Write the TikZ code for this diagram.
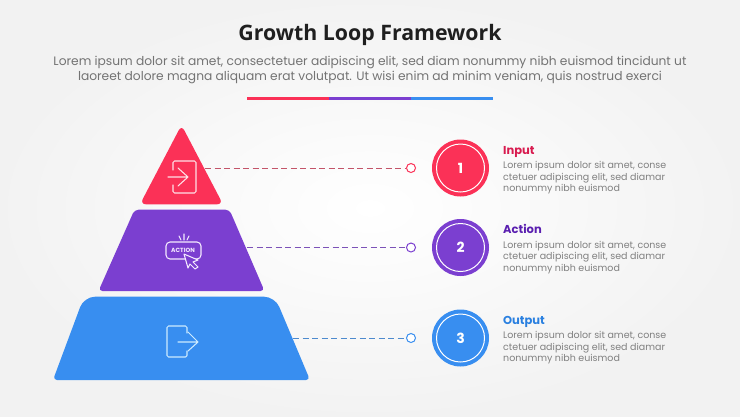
\documentclass[tikz,border=0pt]{standalone}
\usepackage{fontspec}
\setmainfont{Poppins}
\newfontfamily\titlefont{Open Sans}
\definecolor{cred}{HTML}{FB3157}
\definecolor{cpur}{HTML}{7B3FD0}
\definecolor{cblu}{HTML}{388EF0}
\definecolor{tred}{HTML}{D81B4F}
\definecolor{tpur}{HTML}{5A1FB0}
\definecolor{tblu}{HTML}{2A80E0}
\definecolor{icred}{HTML}{FFE0E6}
\definecolor{icpur}{HTML}{F4EAFF}
\definecolor{icblu}{HTML}{CDEBFF}
\tikzset{
  x=1pt,y=-1pt,
  icon/.style={line width=1.05pt,line join=round,line cap=round},
  conn/.style={line width=1pt,dash pattern=on 6pt off 3.5pt},
  dot/.style={circle,draw,fill=white,line width=1pt,minimum size=9pt,inner sep=0pt},
  badge/.style={circle,minimum size=57pt,inner sep=0pt,text=white,font=\fontsize{14}{14}\selectfont\bfseries},
  ring/.style={circle,draw=white,line width=1pt,minimum size=48pt,inner sep=0pt},
  head/.style={anchor=base west,inner sep=0pt,font=\fontsize{11.5}{12}\selectfont\bfseries},
  desc/.style={anchor=north west,inner sep=0pt,text=black!50,align=left,font=\fontsize{9.5}{11.5}\selectfont},
  sub/.style={inner sep=0pt,text=black!55,font=\fontsize{12.25}{15}\selectfont},
}
\begin{document}
\begin{tikzpicture}
\useasboundingbox (0,0) rectangle (740,416);
\shade[inner color=white,outer color=black!5] (0,0) rectangle (740,416);
% heading
\node[inner sep=0pt,text=black!88,font=\titlefont\fontsize{21.3}{24}\selectfont\bfseries] (title) at (370,34.5) {Growth Loop Framework};
\node[sub,anchor=base] (sub1) at (370,65.5) {Lorem ipsum dolor sit amet, consectetuer adipiscing elit, sed diam nonummy nibh euismod tincidunt ut};
\node[sub,anchor=base] (sub2) at (370,80.8) {laoreet dolore magna aliquam erat volutpat. Ut wisi enim ad minim veniam, quis nostrud exerci};
\fill[cred] (247,96.8) rectangle (329,99.6);
\fill[cpur] (329,96.8) rectangle (411,99.6);
\fill[cblu] (411,96.8) rectangle (493,99.6);
% pyramid
\fill[cred,rounded corners=6pt] (181.5,125) -- (223,204.3) -- (140,204.3) -- cycle;
\fill[cpur,rounded corners=4pt] (134.5,209.7) -- (229.5,209.7) -- (264.5,291) -- (98.5,291) -- cycle;
\fill[cblu,rounded corners=11pt] (84,296.7) -- (275,296.7)
  [rounded corners=4pt] -- (310,380) -- (53,380)
  [rounded corners=11pt] -- cycle;
% connectors
\coordinate (c1) at (205,168);
\coordinate (c2) at (247,247.5);
\coordinate (c3) at (293,338);
\node[dot,draw=cred] (d1) at (411,168) {};
\node[dot,draw=cpur] (d2) at (411,247.5) {};
\node[dot,draw=cblu] (d3) at (411,338) {};
\draw[conn,draw=cred!55!gray] (c1) -- (d1);
\draw[conn,draw=cpur!70!gray] (c2) -- (d2);
\draw[conn,draw=cblu!70!gray] (c3) -- (d3);
% badges
\node[badge,fill=cred] (b1) at (460.5,168) {1};
\node[ring] at (b1) {};
\node[badge,fill=cpur] (b2) at (460.5,247.5) {2};
\node[ring] at (b2) {};
\node[badge,fill=cblu] (b3) at (460.5,338) {3};
\node[ring] at (b3) {};
% texts
\node[head,text=tred] (h1) at (503,154) {Input};
\node[desc] (t1) at (503,161.5) {Lorem ipsum dolor sit amet, conse\\ctetuer adipiscing elit, sed diamar\\nonummy nibh euismod};
\node[head,text=tpur] (h2) at (503,233.5) {Action};
\node[desc] (t2) at (503,241) {Lorem ipsum dolor sit amet, conse\\ctetuer adipiscing elit, sed diamar\\nonummy nibh euismod};
\node[head,text=tblu] (h3) at (503,324) {Output};
\node[desc] (t3) at (503,331.5) {Lorem ipsum dolor sit amet, conse\\ctetuer adipiscing elit, sed diamar\\nonummy nibh euismod};
% input icon
\draw[icon,draw=icred,rounded corners=1.5pt] (173,170) -- (173,161) -- (196,161) -- (196,193) -- (173,193) -- (173,185);
\draw[icon,draw=icred] (168,177) -- (188,177) (178,168) -- (188,177) -- (178,186);
% action icon
\draw[icon,draw=icpur,rounded corners=4pt] (166,242) rectangle (201,259);
\node[inner sep=0pt,text=icpur,font=\fontsize{6}{6}\selectfont\bfseries] (act) at (183,250.5) {ACTION};
\draw[icon,draw=icpur] (179,236) -- (181,240) (184,234) -- (184,240) (189,236) -- (187,240);
\draw[icon,draw=icpur,fill=cpur] (184,254) -- (198,260) -- (193,262) -- (198,267) -- (195,269) -- (190,264) -- (188,268) -- cycle;
% output icon
\draw[icon,draw=icblu,rounded corners=1.5pt] (187,333) -- (187,326) -- (167,326) -- (167,357) -- (187,357) -- (187,351);
\draw[icon,draw=icblu] (178,342) -- (198,342) (188,332) -- (198,342) -- (188,351);
\end{tikzpicture}
\end{document}
